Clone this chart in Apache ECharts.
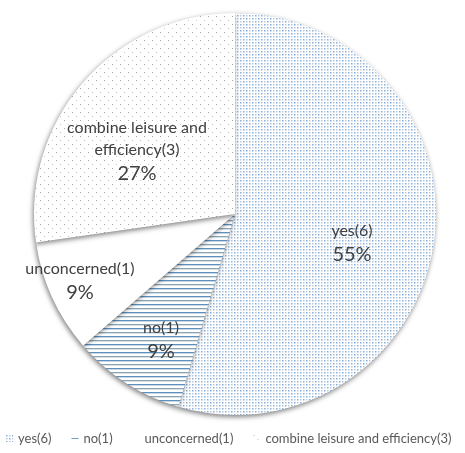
<!DOCTYPE html>
<html>
<head>
<meta charset="utf-8">
<script src="https://cdn.jsdelivr.net/npm/echarts@6/dist/echarts.min.js"></script>
<style>html,body{margin:0;padding:0;background:#fff}#c{width:465px;height:453px}</style>
</head>
<body>
<div id="c"></div>
<script>
// ---- data ----
var categories = ['yes(6)', 'no(1)', 'unconcerned(1)', 'combine leisure and efficiency(3)'];
var counts = [6, 1, 1, 3];

// ---- patterns ----
function tile(w, h, draw) {
  var c = document.createElement('canvas');
  c.width = w; c.height = h;
  var g = c.getContext('2d');
  g.fillStyle = '#ffffff'; g.fillRect(0, 0, w, h);
  draw(g);
  return { image: c, repeat: 'repeat' };
}
var patYes = tile(6, 6, function (g) {
  g.fillStyle = 'rgba(100,155,215,0.8)'; g.fillRect(0, 0, 1.5, 1.5); g.fillRect(3, 3, 1.5, 1.5);
  g.fillStyle = 'rgba(140,165,195,0.6)'; g.fillRect(3, 0, 1.5, 1.5); g.fillRect(0, 3, 1.5, 1.5);
});
var patNo = tile(4, 8, function (g) {
  g.fillStyle = '#5f90bd'; g.fillRect(0, 0, 4, 1);
  g.fillStyle = 'rgba(95,144,189,0.35)'; g.fillRect(0, 1, 4, 1);
  g.fillStyle = '#8aa6b4'; g.fillRect(0, 4, 4, 1);
  g.fillStyle = 'rgba(138,166,180,0.35)'; g.fillRect(0, 5, 4, 1);
});
var patNone = '#ffffff';
var patCombine = tile(8, 8, function (g) {
  g.fillStyle = 'rgba(140,140,140,0.8)'; g.fillRect(0, 0, 1, 1);
  g.fillStyle = 'rgba(160,160,160,0.6)'; g.fillRect(4, 4, 1, 1);
});
var fills = [patYes, patNo, patNone, patCombine];

// label anchor points (centre of each label block)
var labelPos = [[352, 244], [161, 341], [80, 282], [137, 152]];

function wrap(name) {
  return name.length > 20 ? name.replace(' efficiency', '\nefficiency') : name;
}

var legendData = categories.map(function (c, i) {
  if (i === 1) {
    return { name: c, icon: 'path://M0,0h8v1h-8z', itemStyle: { color: '#5f90bd' } };
  }
  return { name: c };
});

var chart = echarts.init(document.getElementById('c'), null, { renderer: 'canvas' });
chart.setOption({
  animation: false,
  backgroundColor: '#ffffff',
  textStyle: { fontFamily: 'Lato' },
  legend: {
    bottom: 8,
    left: 6,
    width: 470,
    padding: 0,
    itemWidth: 7,
    itemHeight: 7,
    itemGap: 20,
    icon: 'rect',
    symbolKeepAspect: true,
    textStyle: { fontFamily: 'Lato', fontSize: 13, color: '#595959' },
    data: legendData
  },
  series: [{
    type: 'pie',
    center: [235, 214],
    radius: [0, 201],
    startAngle: 90,
    clockwise: true,
    percentPrecision: 0,
    avoidLabelOverlap: false,
    itemStyle: {
      shadowBlur: 5,
      shadowColor: 'rgba(0,0,0,0.5)',
      shadowOffsetX: -1,
      shadowOffsetY: 2
    },
    emphasis: { disabled: true },
    label: {
      show: true,
      position: 'inside',
      align: 'center',
      verticalAlign: 'middle',
      formatter: function (p) { return '{n|' + wrap(p.name).split('\n').join('}\n{n|') + '}\n{p|' + p.percent + '%}'; },
      rich: {
        n: { fontFamily: 'Lato', fontSize: 16, color: '#404040', lineHeight: 22, align: 'center' },
        p: { fontFamily: 'Lato', fontSize: 20, color: '#404040', lineHeight: 27, align: 'center' }
      }
    },
    labelLayout: function (params) {
      var p = labelPos[params.dataIndex];
      return { x: p[0], y: p[1], align: 'center', verticalAlign: 'middle' };
    },
    labelLine: { show: false },
    data: categories.map(function (c, i) {
      return { name: c, value: counts[i], itemStyle: { color: fills[i] } };
    })
  }]
});
</script>
</body>
</html>
